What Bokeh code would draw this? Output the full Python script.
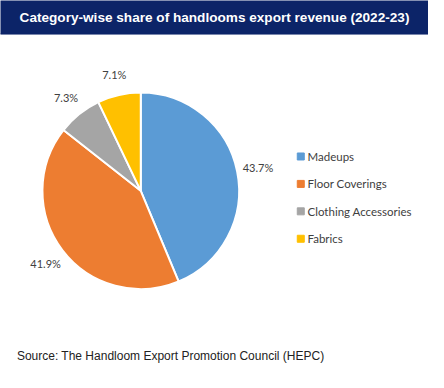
import numpy as np
from bokeh.plotting import figure
from bokeh.models import Range1d, ColumnDataSource
from bokeh.core.properties import value
from bokeh.embed import file_html
from bokeh.resources import INLINE

categories = ["Madeups", "Floor Coverings", "Clothing Accessories", "Fabrics"]
shares = [43.7, 41.9, 7.3, 7.1]
labels = ["43.7%", "41.9%", "7.3%", "7.1%"]
colors = ["#5B9BD5", "#ED7D31", "#A5A5A5", "#FFC000"]

W, H = 428, 372
sx, sy = W / 444, H / 388

def X(px):
    return px * sx

def Y(py):
    return H - py * sy

p = figure(width=W, height=H, output_backend="svg", toolbar_location=None,
           x_range=Range1d(0, W), y_range=Range1d(0, H), min_border=0)
p.axis.visible = False
p.grid.visible = False
p.outline_line_color = None
p.background_fill_color = "white"

# title bar
p.quad(left=[-5], right=[W + 5], bottom=[Y(35)], top=[H + 5], color="#0c2468")
p.text(x=[X(222)], y=[Y(17.5)], text=["Category-wise share of handlooms export revenue (2022-23)"],
       text_align="center", text_baseline="middle", text_color="white",
       text_font=value("Liberation Sans"), text_font_style="bold", text_font_size="13.6px")

# pie
cx, cy, r = X(145.5), Y(198.5), 102 * sx
vals = np.array(shares, dtype=float)
frac = vals / vals.sum()
ends = np.pi / 2 - 2 * np.pi * np.cumsum(frac)
starts = np.concatenate([[np.pi / 2], ends[:-1]])
src = ColumnDataSource(dict(start=starts, end=ends, color=colors, cat=categories))
p.wedge(x=cx, y=cy, radius=r, radius_units="screen", start_angle="end", end_angle="start",
        color="color", line_color="white", line_width=2, source=src)

mids = (starts + ends) / 2
lr = 124 * sx
p.text(x=cx + lr * np.cos(mids), y=cy + lr * np.sin(mids), text=labels,
       text_align="center", text_baseline="middle", text_color="#404040",
       text_font=value("Lato"), text_font_size="11px")

# legend
ly = [Y(162.7 + i * 28.6) for i in range(len(categories))]
p.rect(x=[X(311.5)] * 4, y=ly, width=7, height=7, width_units="screen", height_units="screen",
       color=colors)
p.text(x=[X(318.5)] * 4, y=ly, text=categories, text_baseline="middle", text_color="#404040",
       text_font=value("Lato"), text_font_size="11.5px")

# source
p.text(x=[X(17)], y=[Y(371)], text=["Source: The Handloom Export Promotion Council (HEPC)"],
       text_baseline="middle", text_color="#222222",
       text_font=value("Liberation Sans"), text_font_size="12px")

open("out.html", "w").write(file_html(p, INLINE))
